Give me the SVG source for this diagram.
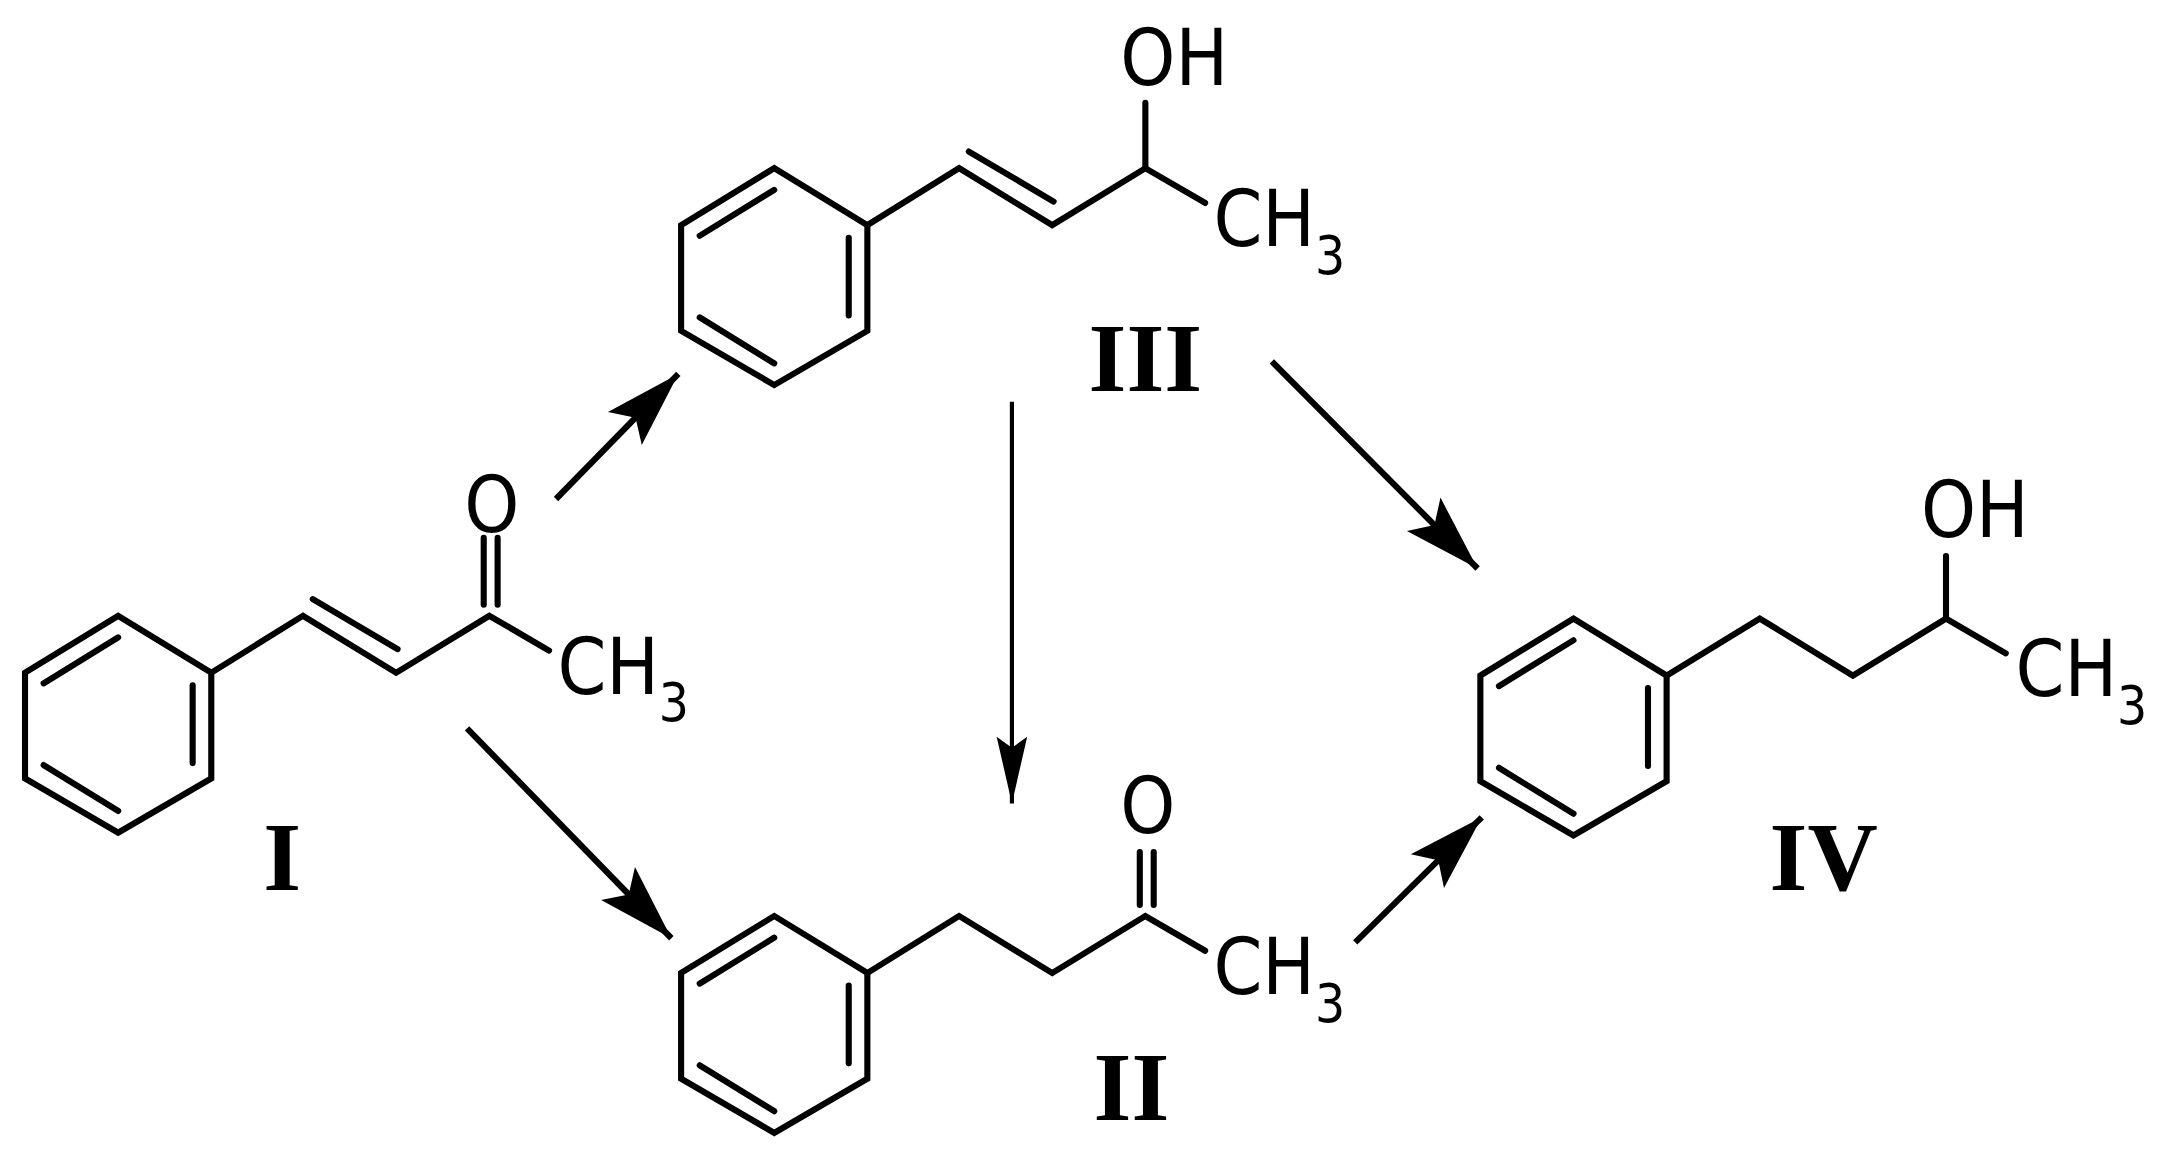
<svg xmlns="http://www.w3.org/2000/svg" width="2171" height="1162" viewBox="0 0 2171 1162">
<style>
.b{stroke:#000;stroke-width:4.4;fill:none;stroke-linecap:round;stroke-linejoin:miter}
.a{stroke:#000;stroke-width:4.4;fill:none}
.a2{stroke:#000;stroke-width:3;fill:none}
.t{font-family:"DejaVu Sans Condensed","DejaVu Sans","Noto Sans",sans-serif;font-size:56px;fill:#000}
.s{font-family:"DejaVu Sans Condensed","DejaVu Sans","Noto Sans",sans-serif;font-size:38px;fill:#000}
.l{font-family:"Liberation Serif","Times New Roman",serif;font-weight:bold;font-size:70px;fill:#000;text-anchor:middle}
</style>
<defs>
<marker id="ah" markerUnits="userSpaceOnUse" orient="auto" overflow="visible" refX="0" refY="0" markerWidth="60" markerHeight="40">
<path d="M0,0 L-55,-17 L-44,0 L-55,17 Z" fill="#000"/>
</marker>
<marker id="ah2" markerUnits="userSpaceOnUse" orient="auto" overflow="visible" refX="0" refY="0" markerWidth="60" markerHeight="40">
<path d="M0,0 L-48,-11 L-40,0 L-48,11 Z" fill="#000"/>
</marker>
<g id="ring">
<path class="b" d="M0,0 L67,41 L67,117 L0,156 L-67,117 L-67,41 Z"/>
<line class="b" x1="0" y1="15.6" x2="-53.6" y2="48.6"/>
<line class="b" x1="53.6" y1="50" x2="53.6" y2="106"/>
<line class="b" x1="-53.6" y1="107.4" x2="0" y2="140.4"/>
</g>
</defs>
<rect width="2171" height="1162" fill="#fff"/>
<g transform="scale(1.39)">
<g id="molI" transform="translate(85,443)">
<use href="#ring"/>
<path class="b" d="M67,41 L133,0 L200,41 L267,0 L310,25"/>
<line class="b" x1="140" y1="-12" x2="201" y2="24"/>
<line class="b" x1="263" y1="-8" x2="263" y2="-56"/>
<line class="b" x1="273" y1="-8" x2="273" y2="-56"/>
<text class="t" x="249" y="-60">O</text>
<text class="t" x="316" y="56">CH</text>
<text class="s" x="389" y="76">3</text>
<text class="l" x="118" y="197">I</text>
</g>
<g id="molIII" transform="translate(557,121)">
<use href="#ring"/>
<path class="b" d="M67,41 L133,0 L200,41 L267,0 L310,25"/>
<path class="b" d="M267,0 L267,-47"/>
<line class="b" x1="140" y1="-12" x2="201" y2="24"/>
<text class="t" x="249" y="-60">OH</text>
<text class="t" x="316" y="56">CH</text>
<text class="s" x="389" y="76">3</text>
<text class="l" x="267" y="160">III</text>
</g>
<g id="molII" transform="translate(557,659)">
<use href="#ring"/>
<path class="b" d="M67,41 L133,0 L200,41 L267,0 L310,25"/>
<line class="b" x1="263" y1="-8" x2="263" y2="-46"/>
<line class="b" x1="273" y1="-8" x2="273" y2="-46"/>
<text class="t" x="249" y="-60">O</text>
<text class="t" x="316" y="56">CH</text>
<text class="s" x="389" y="76">3</text>
<text class="l" x="257" y="147">II</text>
</g>
<g id="molIV" transform="translate(1132,445)">
<use href="#ring"/>
<path class="b" d="M67,41 L134,0 L201,41 L268,0 L311,25"/>
<path class="b" d="M268,0 L268,-45"/>
<text class="t" x="250" y="-59">OH</text>
<text class="t" x="318" y="56">CH</text>
<text class="s" x="391" y="76">3</text>
<text class="l" x="180" y="195">IV</text>
</g>
<g id="connectors">
<line class="a" x1="400" y1="359" x2="488" y2="269" marker-end="url(#ah)"/>
<line class="a" x1="336" y1="524" x2="483" y2="675" marker-end="url(#ah)"/>
<line class="a2" x1="728" y1="289" x2="728" y2="578" marker-end="url(#ah2)"/>
<line class="a" x1="915" y1="260" x2="1063" y2="409" marker-end="url(#ah)"/>
<line class="a" x1="975" y1="678" x2="1066" y2="588" marker-end="url(#ah)"/>
</g>
</g>
</svg>
